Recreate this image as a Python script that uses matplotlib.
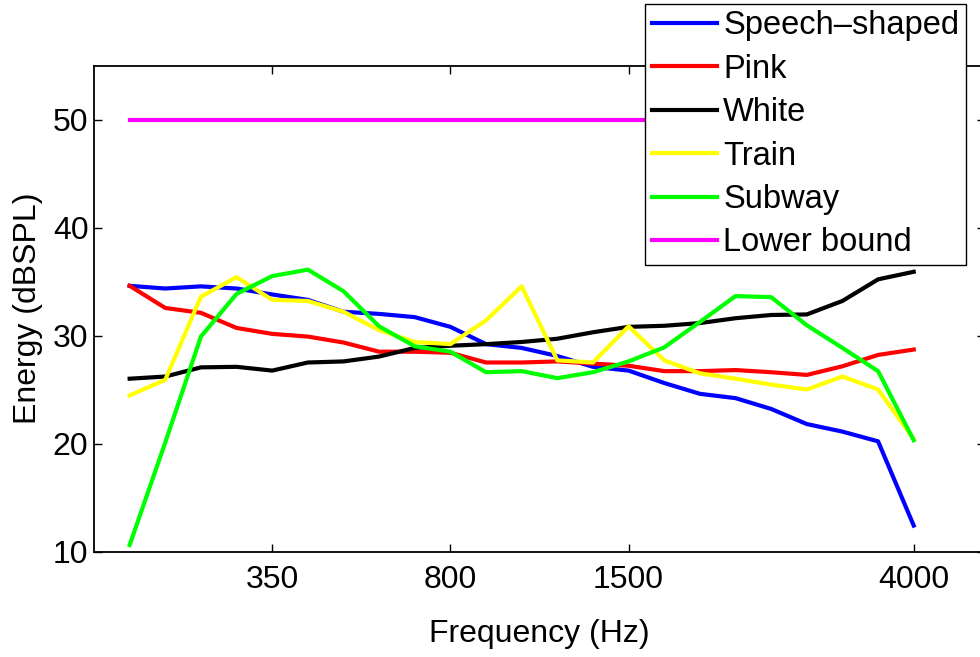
import numpy as np
import matplotlib
matplotlib.use("Agg")
import matplotlib.pyplot as plt

plt.rcParams["font.family"] = ["Liberation Sans", "DejaVu Sans"]
plt.rcParams["font.size"] = 23

# band index (channels are evenly spaced on the plot)
band = np.arange(23)

speech = [34.6, 34.35, 34.55, 34.35, 33.8, 33.3, 32.2, 32.0, 31.7, 30.8, 29.2, 28.85,
          28.1, 27.1, 26.75, 25.6, 24.6, 24.2, 23.2, 21.8, 21.1, 20.2, 12.4]
pink = [34.6, 32.55, 32.1, 30.7, 30.15, 29.9, 29.35, 28.5, 28.5, 28.4, 27.5, 27.5,
        27.6, 27.4, 27.2, 26.7, 26.7, 26.8, 26.6, 26.35, 27.15, 28.2, 28.7]
white = [26.0, 26.2, 27.05, 27.1, 26.75, 27.5, 27.6, 28.05, 28.85, 29.05, 29.2, 29.4,
         29.7, 30.3, 30.8, 30.9, 31.15, 31.6, 31.9, 31.95, 33.2, 35.2, 35.9]
train = [24.45, 25.9, 33.6, 35.4, 33.3, 33.2, 32.2, 30.5, 29.4, 29.2, 31.4, 34.55,
         27.7, 27.5, 30.85, 27.7, 26.5, 26.0, 25.45, 25.0, 26.2, 25.0, 20.4]
subway = [10.6, 20.1, 29.9, 33.85, 35.5, 36.1, 34.1, 30.85, 29.0, 28.5, 26.6, 26.7,
          26.05, 26.6, 27.6, 28.9, 31.25, 33.65, 33.55, 30.95, 28.85, 26.7, 20.3]
lower_bound = [50] * 23

tick_pos = [4, 9, 14, 22]
tick_labels = ["350", "800", "1500", "4000"]

series = [
    ("Speech\u2013shaped", speech, (0, 0, 1)),
    ("Pink", pink, (1, 0, 0)),
    ("White", white, (0, 0, 0)),
    ("Train", train, (1, 1, 0)),
    ("Subway", subway, (0, 1, 0)),
    ("Lower bound", lower_bound, (1, 0, 1)),
]

fig = plt.figure(figsize=(9.8, 6.57), dpi=100)
ax = fig.add_axes([94 / 980, 105.5 / 657, 891 / 980, 486 / 657])

for name, vals, col in series:
    ax.plot(band, vals, color=col, lw=3, label=name)

ax.set_xlim(-1, 24)
ax.set_ylim(10, 55)
ax.set_xticks(tick_pos)
ax.set_xticklabels(tick_labels)
ax.set_yticks([10, 20, 30, 40, 50])

ax.tick_params(direction="in", length=6, width=1, top=True, right=True,
               labeltop=False, labelright=False)
ax.tick_params(axis="x", pad=10)
ax.tick_params(axis="y", pad=4)
for sp in ax.spines.values():
    sp.set_linewidth(1.3)
    sp.set_color("black")

ax.set_xlabel("Frequency (Hz)", labelpad=17)
ax.set_ylabel("Energy (dBSPL)", labelpad=7)

leg = ax.legend(loc="lower left", bbox_to_anchor=(645 / 980, (657 - 265) / 657),
                bbox_transform=fig.transFigure, fancybox=False, framealpha=1,
                edgecolor="black", handlelength=2.0, handletextpad=0.2,
                labelspacing=0.38, borderpad=0.2, borderaxespad=0,
                prop={"size": 23.5})
leg.get_frame().set_linewidth(1.0)

fig.savefig("out.png", dpi=100)
